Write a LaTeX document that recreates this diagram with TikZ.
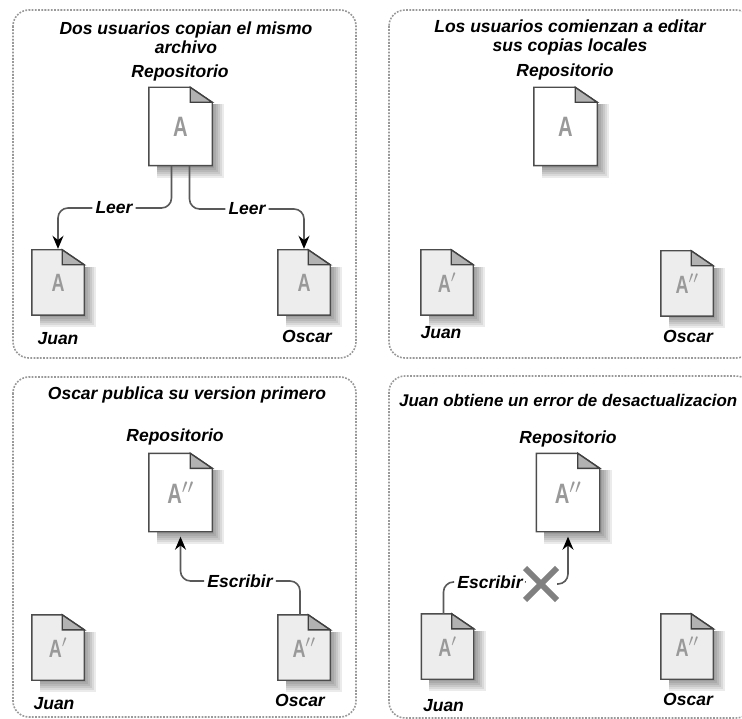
\documentclass[tikz,border=0pt]{standalone}
\usepackage{fontspec}
\setmainfont{Liberation Sans}
\usetikzlibrary{arrows.meta, backgrounds, shapes.misc}
\tikzstyle{panel} = [rectangle, rounded corners=16pt, draw=black!40, line width=1.6pt, dash pattern=on 1.8pt off 1.4pt]
\tikzstyle{label} = [inner sep=1pt, text centered, font=\bfseries\itshape\fontsize{17.5}{19}\selectfont]
\tikzstyle{title} = [label, align=center]
\tikzstyle{edgelabel} = [label, inner sep=3pt]
\tikzstyle{repofile} = [rectangle, minimum width=63pt, minimum height=78pt, inner sep=0pt, text=black!40, font=\bfseries\fontsize{28}{28}\selectfont]
\tikzstyle{userfile} = [rectangle, minimum width=52pt, minimum height=65pt, inner sep=0pt, text=black!40, font=\bfseries\fontsize{25}{25}\selectfont]
\tikzstyle{line} = [draw=black!65, line width=1.6pt, rounded corners=10pt]
\tikzstyle{arrow} = [line, -{Stealth[length=13pt,width=11pt,color=black]}]
\tikzstyle{errormark} = [cross out, draw=black!50, line width=6pt, minimum width=26pt, minimum height=26pt, inner sep=0pt]
% file icon: name, style and place, paper colour, letter
\newcommand{\docfile}[4]{
  \node (#1) [#2] {\scalebox{0.72}[1]{A}#4};
  \begin{scope}[on background layer]
    \foreach \s in {12,10,8,6,4,2}
      \fill [black, opacity=0.08] ([xshift=8pt,yshift=-17pt]#1.north west) rectangle ([xshift=\s pt,yshift=-\s pt]#1.south east);
    \draw [fill=#3, draw=black!70, line width=1.4pt] (#1.north west) -- ([xshift=-22pt]#1.north east) -- ([yshift=-15pt]#1.north east) -- (#1.south east) -- (#1.south west) -- cycle;
    \draw [fill=black!30, draw=black!75, line width=1.4pt] ([xshift=-22pt]#1.north east) -- ([yshift=-15pt]#1.north east) -- ([xshift=-22pt,yshift=-15pt]#1.north east) -- cycle;
  \end{scope}
}
\newcommand{\oneprime}{\raisebox{0.1ex}{$^{\prime}$}}
\newcommand{\twoprime}{\raisebox{0.1ex}{$^{\prime\prime}$}}
\begin{document}
\begin{tikzpicture}[x=1pt, y=-1pt, node distance=156pt]
\useasboundingbox (0,0) rectangle (742,719);

%% PANELS
\draw [panel] (13,10) rectangle (356,358);
\draw [panel] (389,10) rectangle (752,358);
\draw [panel] (13,377) rectangle (356,717);
\draw [panel] (389,376) rectangle (752,718);

%% TOP LEFT
\node (titleA) [title] at (186,38) {Dos usuarios copian el mismo\\archivo};
\node (nameA) [label] at (180,73) {Repositorio};
\docfile{repoA}{repofile, at={(180.5,126.5)}}{white}{}
\docfile{juanA}{userfile, below of=repoA, xshift=-122.5pt}{black!7}{}
\docfile{oscarA}{userfile, below of=repoA, xshift=123.5pt}{black!7}{}
\node (juanlabelA) [label, node distance=56pt, below of=juanA] {Juan};
\node (oscarlabelA) [label, node distance=54pt, below of=oscarA, xshift=3pt] {Oscar};
\node (leerJ) [edgelabel] at (114,208) {Leer};
\node (leerO) [edgelabel] at (247,209) {Leer};

%% TOP RIGHT
\node (titleB) [title] at (570,37) {Los usuarios comienzan a editar\\sus copias locales};
\node (nameB) [label] at (565,72) {Repositorio};
\docfile{repoB}{repofile, at={(565.5,126.5)}}{white}{}
\docfile{juanB}{userfile, below of=repoB, xshift=-118.5pt}{black!7}{\oneprime}
\docfile{oscarB}{userfile, below of=repoB, xshift=121.5pt, yshift=-1pt}{black!7}{\twoprime}
\node (juanlabelB) [label, node distance=50pt, below of=juanB, xshift=-6pt] {Juan};
\node (oscarlabelB) [label, node distance=53pt, below of=oscarB, xshift=1pt] {Oscar};

%% BOTTOM LEFT
\node (titleC) [title] at (187,395) {Oscar publica su version primero};
\node (nameC) [label] at (175,437) {Repositorio};
\docfile{repoC}{repofile, at={(180.5,492.5)}}{white}{\twoprime}
\docfile{juanC}{userfile, below of=repoC, xshift=-122.5pt, yshift=1pt}{black!7}{\oneprime}
\docfile{oscarC}{userfile, below of=repoC, xshift=123.5pt, yshift=1pt}{black!7}{\twoprime}
\node (juanlabelC) [label, node distance=56pt, below of=juanC, xshift=-4pt] {Juan};
\node (oscarlabelC) [label, node distance=53pt, below of=oscarC, xshift=-4pt] {Oscar};
\node (escribirC) [edgelabel] at (240,581) {Escribir};

%% BOTTOM RIGHT
\node (titleD) [label, anchor=west, font=\bfseries\itshape\fontsize{16.9}{19}\selectfont] at (398,400) {Juan obtiene un error de desactualizacion};
\node (nameD) [label] at (568,439) {Repositorio};
\docfile{repoD}{repofile, at={(568,492.5)}}{white}{\twoprime}
\docfile{juanD}{userfile, below of=repoD, xshift=-120.5pt, yshift=2pt}{black!7}{\oneprime}
\docfile{oscarD}{userfile, below of=repoD, xshift=119pt, yshift=2pt}{black!7}{\twoprime}
\node (juanlabelD) [label, node distance=59pt, below of=juanD, xshift=-4pt] {Juan};
\node (oscarlabelD) [label, node distance=53pt, below of=oscarD, xshift=1pt] {Oscar};
\node (escribirD) [edgelabel] at (490,582) {Escribir};
\node (errorD) [errormark] at (541,584) {};

%% ARROWS
\draw [line] ([xshift=-9pt]repoA.south) |- (leerJ.east);
\draw [arrow, shorten >=1pt] (leerJ.west) -| (juanA.north);
\draw [line] ([xshift=9pt]repoA.south) |- (leerO.west);
\draw [arrow, shorten >=1pt] (leerO.east) -| (oscarA.north);
\draw [line] ([xshift=-4pt]oscarC.north) |- (escribirC.east);
\draw [arrow, shorten >=5pt] (escribirC.west) -| (repoC.south);
\draw [line] ([xshift=-4pt]juanD.north) |- (escribirD.west);
\draw [line] (escribirD.east) -- (errorD);
\begin{scope}[on background layer]
\draw [arrow, shorten >=5pt] (errorD) -| (repoD.south);
\end{scope}
\end{tikzpicture}
\end{document}
